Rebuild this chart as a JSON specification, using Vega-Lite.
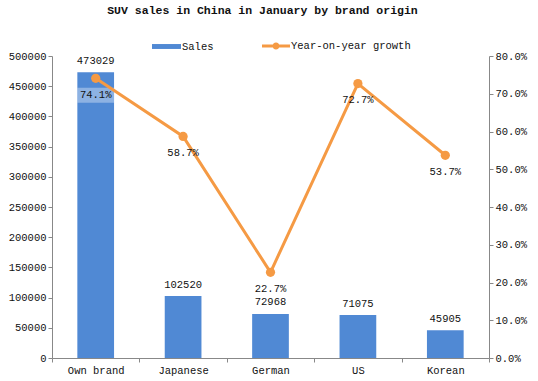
{
  "$schema": "https://vega.github.io/schema/vega-lite/v6.json",
  "width": 437,
  "height": 302,
  "autosize": {"type": "none"},
  "padding": {"left": 52, "top": 56, "right": 49, "bottom": 23},
  "background": "white",
  "config": {
    "view": {"stroke": null},
    "font": "Liberation Mono",
    "axis": {"labelFont": "Liberation Mono", "labelFontSize": 10.5, "labelColor": "#111", "domainColor": "#888", "tickColor": "#888", "grid": false, "title": null, "tickSize": 4},
    "legend": {"labelFont": "Liberation Mono", "labelFontSize": 10.5, "labelColor": "#111", "padding": 0}
  },
  "title": {"text": "SUV sales in China in January by brand origin", "font": "Liberation Mono", "fontSize": 11.5, "fontWeight": "bold", "color": "#111", "anchor": "middle", "offset": 16, "dx": -8},
  "data": {"values": [
    {"origin": "Own brand", "sales": 473029, "growth": 0.741},
    {"origin": "Japanese", "sales": 102520, "growth": 0.587},
    {"origin": "German", "sales": 72968, "growth": 0.227},
    {"origin": "US", "sales": 71075, "growth": 0.727},
    {"origin": "Korean", "sales": 45905, "growth": 0.537}
  ]},
  "encoding": {
    "x": {"field": "origin", "type": "nominal", "sort": null, "scale": {"paddingInner": 0, "paddingOuter": 0},
      "axis": {"labelAngle": 0, "tickBand": "extent", "labelPadding": 3, "labelBaseline": "top"}}
  },
  "layer": [
    {
      "encoding": {
        "y": {"field": "sales", "type": "quantitative", "scale": {"domain": [0, 500000], "nice": false},
          "axis": {"orient": "left", "values": [0, 50000, 100000, 150000, 200000, 250000, 300000, 350000, 400000, 450000, 500000], "format": "d", "labelPadding": 2}}
      },
      "layer": [
        {"mark": {"type": "bar", "width": {"band": 0.42}},
          "encoding": {"fill": {"datum": "Sales", "type": "nominal", "scale": {"range": ["#5089d4"]},
            "legend": {"title": null, "orient": "none", "legendX": 100, "legendY": -24, "symbolType": "M-1,-0.17L1,-0.17L1,0.17L-1,0.17Z", "symbolSize": 841, "labelOffset": 1,
              "encode": {"symbols": {"update": {"strokeWidth": {"value": 0}}}}}}}},
        {"mark": {"type": "text", "baseline": "middle", "dy": -11.5, "fontSize": 10.5, "color": "#111"},
          "encoding": {"text": {"field": "sales", "type": "quantitative", "format": "d"}}}
      ]
    },
    {
      "encoding": {
        "y": {"field": "growth", "type": "quantitative", "scale": {"domain": [0, 0.8], "nice": false},
          "axis": {"orient": "right", "values": [0, 0.1, 0.2, 0.3, 0.4, 0.5, 0.6, 0.7, 0.8], "format": ".1%", "labelPadding": 2}}
      },
      "layer": [
        {"transform": [{"filter": "datum.origin === 'Own brand'"}],
          "mark": {"type": "bar", "width": {"band": 0.42}, "color": "white", "opacity": 0.35, "yOffset": 24.5, "y2Offset": 9.5},
          "encoding": {"y2": {"field": "growth"}}},
        {"mark": {"type": "line", "strokeWidth": 3},
          "encoding": {"stroke": {"datum": "Year-on-year growth", "type": "nominal", "scale": {"range": ["#f59a44"]},
            "legend": {"title": null, "orient": "none", "legendX": 210, "legendY": -24, "symbolType": "M-1,-0.1L1,-0.1L1,0.1L-1,0.1Z M0.25,0A0.25,0.25,0,1,1,-0.25,0A0.25,0.25,0,1,1,0.25,0Z", "symbolSize": 784, "labelOffset": 1,
              "encode": {"symbols": {"update": {"fill": {"value": "#f59a44"}, "strokeWidth": {"value": 0}}}}}}}},
        {"mark": {"type": "point", "filled": true, "size": 85, "opacity": 1, "color": "#f59a44"}},
        {"mark": {"type": "text", "baseline": "middle", "dy": 16.5, "fontSize": 10.5, "color": "#111"},
          "encoding": {"text": {"field": "growth", "type": "quantitative", "format": ".1%"}}}
      ]
    }
  ],
  "resolve": {"scale": {"y": "independent"}}
}
